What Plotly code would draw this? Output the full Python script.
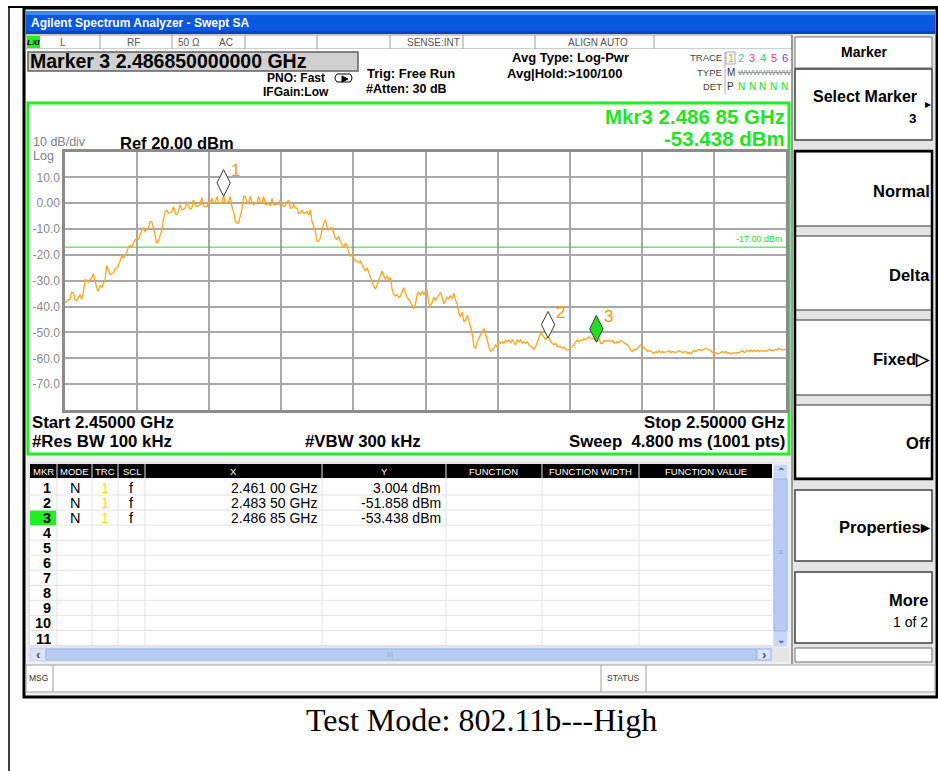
import numpy as np
import plotly.graph_objects as go

W, H = 938, 771

# ---------------- data ----------------
START_GHZ = 2.45
STOP_GHZ = 2.50
REF_DBM = 20.0
BOTTOM_DBM = -80.0
LIMIT_DBM = -17.0

# trace 1 levels (dBm), read left to right across the sweep
level_a = [-38.5, -37.8, -37.4, -37.2, -34.4, -34.6, -37.2, -37.8, -36.2, -35.3,
           -37.2, -34.6, -29.5, -30.1, -30.5, -29.5, -28.8, -27.3, -30.1, -32.7,
           -34.0, -31.8, -32.7, -31.0, -29.5, -24.1, -25.6, -27.6, -27.2, -26.9,
           -25.4, -25.0, -24.1, -22.4, -20.5, -21.2, -19.9, -19.2, -16.9, -16.4,
           -16.9, -15.4, -14.1, -13.5, -14.1, -12.2, -10.3, -9.6, -10.9, -10.3,
           -9.6, -7.1, -7.1, -9.6, -12.2, -15.4, -14.7, -12.2, -10.3, -6.4,
           -3.2, -2.8, -3.8, -3.6, -3.2, -1.3, -3.8, -4.5, -3.2, -0.6,
           -2.6, -2.3, -1.9, 0.6, -1.3, -2.3, -1.9, 1.3, -0.6, -1.3,
           -1.0, -0.6, 2.3, -1.0, -1.3, -1.3, 0.3, 0.3, 1.9, 0.0,
           0.3, 2.6, 0.0, 0.3, 0.3, 3.0, 0.3, 0.0, 0.6]
level_b = [2.6, -1.3, -3.2, -7.1, -7.7, -7.7, -5.1, -2.6, 2.6, 2.6,
           0.6, 0.0, 2.6, 0.3, -0.6, 0.0, 0.0, 2.6, 0.6, 0.0,
           2.6, -0.3, -0.6, 0.0, -1.0, 1.9, -0.6, -0.6, -0.3, -0.6,
           1.5, -0.6, -1.3, -1.0, 0.6, 1.0, -1.9, -1.9, -0.3, -1.9,
           -1.9, -3.8, -3.8, -2.6, -3.8, -3.8, -3.2, -4.5, -2.6, -7.1,
           -9.0, -10.9, -14.7, -14.7, -13.5, -10.3, -7.7, -6.4, -9.0, -10.3,
           -9.6, -9.6, -11.5, -13.5, -14.1, -12.8, -14.7, -16.0, -17.3, -15.4,
           -16.7, -19.2, -20.5, -19.9, -21.2, -22.4, -22.4, -23.1, -22.4, -23.7,
           -24.4, -26.3, -25.0, -26.9, -28.2, -30.8, -32.1, -33.3, -31.4, -29.5,
           -28.2, -26.3, -28.2, -29.5, -28.2, -29.5, -28.8, -33.3, -35.3, -35.9,
           -35.3, -36.5, -35.9, -34.6, -32.7, -34.6, -36.5, -37.2]
level_c = [-38.3, -39.6, -40.8, -38.9, -35.1, -34.5, -35.7, -34.1, -35.4, -34.1,
           -33.8, -38.9, -39.9, -38.3, -36.4, -37.6, -36.4, -35.1, -34.5, -36.4,
           -38.9, -37.6, -36.4, -37.0, -35.7, -37.0, -34.8, -37.6, -38.9, -42.7,
           -44.0, -42.1, -45.9, -45.3, -43.4, -45.3, -47.8, -50.4, -55.5, -56.1,
           -53.6, -52.3, -50.4, -49.7, -48.5, -50.4, -52.9, -55.5, -57.4, -56.8,
           -56.1, -54.8, -55.5, -53.6, -54.2, -53.6, -54.2, -52.9, -53.6, -52.9,
           -54.2, -52.9, -53.6, -54.8, -52.9, -53.6, -52.9, -54.2, -53.6, -54.2,
           -53.6, -54.8, -55.5, -55.7, -56.5, -55.5, -53.6, -52.3, -50.4, -51.0,
           -51.7, -52.9, -51.7, -51.9, -53.6, -54.2, -54.8, -54.2, -55.5, -55.7,
           -55.5, -56.1, -55.7, -56.5, -56.8, -56.5, -56.1, -55.5, -54.5, -53.6,
           -52.9, -53.6, -52.9, -53.2, -52.3, -52.9, -52.3, -51.7]
level_d = [-52.2, -52.2, -52.6, -53.1, -53.4, -52.2, -54.2, -54.4, -53.1, -53.5,
           -53.1, -53.1, -53.5, -53.1, -53.9, -54.2, -53.5, -53.9, -53.1, -53.5,
           -53.9, -54.2, -54.8, -55.5, -56.8, -57.4, -56.5, -56.8, -56.1, -55.2,
           -54.8, -55.2, -56.1, -56.5, -57.4, -57.0, -57.4, -57.8, -58.1, -57.4,
           -57.8, -57.0, -57.8, -57.4, -57.8, -57.5, -57.4, -57.0, -57.8, -57.4,
           -57.5, -57.8, -57.4, -57.0, -57.4, -57.8, -57.5, -57.4, -58.1, -57.8,
           -58.3, -57.4, -57.0, -57.4, -56.8, -56.5, -57.0, -56.8, -56.5, -56.1,
           -56.5, -56.8, -57.0, -57.8, -58.1, -57.8, -58.3, -58.1, -57.8, -57.4,
           -57.8, -57.4, -58.1, -57.8, -58.3, -58.1, -57.8, -58.1, -57.7, -57.8,
           -57.4, -57.0, -57.8, -57.4, -57.0, -57.4, -56.8, -57.4, -57.0, -57.4,
           -56.8, -57.4, -57.0, -57.4, -57.0, -57.4, -57.0, -56.5, -57.0, -56.8,
           -57.0, -56.5, -56.8, -56.1, -56.5, -56.8, -56.5, -56.8]

marker_ids = [1, 2, 3]
marker_freq = [2.46100, 2.48350, 2.48685]
marker_level = [3.004, -51.858, -53.438]
marker_x_text = ["2.461 00 GHz", "2.483 50 GHz", "2.486 85 GHz"]
marker_y_text = ["3.004 dBm", "-51.858 dBm", "-53.438 dBm"]

ytick_vals = [10, 0, -10, -20, -30, -40, -50, -60, -70]
ytick_text = ["10.0", "0.00", "-10.0", "-20.0", "-30.0", "-40.0", "-50.0", "-60.0", "-70.0"]

levels = level_a + level_b + level_c + level_d
freqs = np.linspace(START_GHZ, STOP_GHZ, len(levels))

# ---------------- helpers ----------------
SANS = "Liberation Sans, Arial, sans-serif"
NARROW = "Liberation Sans Narrow, Liberation Sans, Arial, sans-serif"
SERIF = "Liberation Serif, Times New Roman, serif"

def X(x):
    return x / W

def Y(y):
    return 1 - y / H

shapes = []
annotations = []

def rect(x0, y0, x1, y1, fill=None, line=None, lw=1, layer="below"):
    shapes.append(dict(type="rect", xref="paper", yref="paper",
                       x0=X(x0), x1=X(x1), y0=Y(y1), y1=Y(y0),
                       fillcolor=fill if fill else "rgba(0,0,0,0)",
                       line=dict(color=line if line else "rgba(0,0,0,0)", width=lw if line else 0),
                       layer=layer))

def seg(x0, y0, x1, y1, color, width=1, layer="below"):
    shapes.append(dict(type="line", xref="paper", yref="paper",
                       x0=X(x0), x1=X(x1), y0=Y(y0), y1=Y(y1),
                       line=dict(color=color, width=width), layer=layer))

def txt(x, y, s, size=12, color="black", bold=False, anchor="left", family=SANS):
    annotations.append(dict(xref="paper", yref="paper", x=X(x), y=Y(y),
                            text=("<b>%s</b>" % s) if bold else s, showarrow=False,
                            xanchor=anchor, yanchor="middle", borderpad=0,
                            align=anchor if anchor != "center" else "center",
                            font=dict(size=size, color=color, family=family)))

# ---------------- page frame ----------------
seg(9, 6, 9, 771, "black", 1.5)
seg(8, 7, 938, 7, "black", 2)
rect(24, 8, 937, 697, fill="#f0f0f0", line="black", lw=3)

# title bar
rect(26, 11, 935, 34, fill="#0a58e0")
rect(26, 11, 935, 15, fill="#3b86f5")
rect(26, 31, 935, 34, fill="#0846b8")
txt(30, 23, "Agilent Spectrum Analyzer - Swept SA", 12, "white", True)

# status row
rect(26, 35, 792, 49, fill="white", line="#9a9a9a", lw=1)
for sx in [100, 172, 245, 317, 390, 463, 535, 654]:
    seg(sx, 35, sx, 49, "#9a9a9a", 1)
rect(27, 36, 40, 48, fill="#22ee22")
txt(33.5, 42, "<i>LXI</i>", 8, "black", True, "center")
for sx, s in [(63, "L"), (133, "RF"), (189, "50 Ω"), (226, "AC"), (598, "ALIGN AUTO")]:
    txt(sx, 42, s, 10, "#555555", False, "center")
txt(461, 42, "SENSE:INT", 10, "#555555", False, "right")

# info area
rect(26, 49, 792, 101, fill="white")
rect(28, 52, 358, 71, fill="#d0d0d0", line="#606060", lw=1.5)
txt(29, 61.5, "Marker 3 2.486850000000 GHz", 19.5, "black", True)
txt(296, 78, "PNO: Fast", 12, "black", True, "center")
txt(296, 92, "IFGain:Low", 12, "black", True, "center")
shapes.append(dict(type="path", xref="paper", yref="paper",
                   path="M %f %f L %f %f Q %f %f %f %f L %f %f Q %f %f %f %f Z" % (
                       X(337), Y(74), X(350), Y(74), X(354), Y(78), X(350), Y(82),
                       X(337), Y(82), X(333), Y(78), X(337), Y(74)),
                   line=dict(color="black", width=1), fillcolor="white", layer="below"))
shapes.append(dict(type="path", xref="paper", yref="paper",
                   path="M %f %f L %f %f L %f %f Z" % (X(342), Y(76), X(348), Y(79), X(342), Y(82)),
                   line=dict(color="black", width=1), fillcolor="black", layer="below"))
txt(366, 73, "Trig: Free Run", 13, "black", True)
txt(365, 89, "#Atten: 30 dB", 12.5, "black", True)
txt(570, 58, "Avg Type: Log-Pwr", 13, "black", True, "center")
txt(565, 73, "Avg|Hold:>100/100", 13, "black", True, "center")
for ty, s in [(58, "TRACE"), (72, "TYPE"), (86, "DET")]:
    txt(723, ty, s, 9.5, "#444444", False, "right")
seg(725, 52, 725, 94, "#aaaaaa", 1)
rect(726, 52, 735, 64, line="#aaaaaa", lw=1)
trace_cols = ["#ff9900", "#22c8ff", "#ff33cc", "#33dd33", "#ff3366", "#6644ff"]
for i, c in enumerate(trace_cols):
    txt(730.5 + 10.8 * i, 58, str(i + 1), 11, c, False, "center")
txt(730.5, 72, "M", 10, "#333333", False, "center")
txt(737, 72, "<s>WWWWWWW</s>", 8, "#8a8a8a", False, "left")
txt(730.5, 86, "P", 10, "#333333", False, "center")
for i in range(5):
    txt(741.3 + 10.8 * i, 86, "N", 10, "#22dd22", False, "center")

# plot panel
rect(28, 103, 789, 454, fill="white", line="#22ee22", lw=3)
txt(786, 116, "Mkr3 2.486 85 GHz", 20.5, "#1ee61e", True, "right")
txt(786, 138, "-53.438 dBm", 20.5, "#1ee61e", True, "right")
txt(32, 142, "10 dB/div", 12.5, "#808080")
txt(32, 156.5, "Log", 12.5, "#808080")
txt(119, 142.5, "Ref 20.00 dBm", 16.5, "black", True)
txt(31, 422, "Start 2.45000 GHz", 16.8, "black", True)
txt(786, 422, "Stop 2.50000 GHz", 16.8, "black", True, "right")
txt(31, 441, "#Res BW 100 kHz", 16.8, "black", True)
txt(304, 441, "#VBW 300 kHz", 16.8, "black", True)
txt(786, 441, "Sweep  4.800 ms (1001 pts)", 16.8, "black", True, "right")

# marker table
rect(28, 462, 789, 662, fill="#e6e6e6")
rect(30, 464, 773, 646, fill="white")
rect(30, 464, 772, 478, fill="black")
col_edges = [30, 57, 92, 118, 145, 322, 446, 542, 639, 772]
for cx in col_edges[1:-1]:
    seg(cx, 464, cx, 478, "#9a9a9a", 1.5)
    seg(cx, 478, cx, 646, "#e2e2e2", 1)
heads = ["MKR", "MODE", "TRC", "SCL", "X", "Y", "FUNCTION", "FUNCTION WIDTH", "FUNCTION VALUE"]
for i, hname in enumerate(heads):
    txt((col_edges[i] + col_edges[i + 1]) / 2, 471, hname, 9.5, "white", False, "center", NARROW)
ROW0, ROWH = 488, 15.05
for r in range(11):
    yc = ROW0 + ROWH * r
    seg(30, yc + 7, 773, yc + 7, "#e2e2e2", 1)
    if r == 2:
        rect(30, yc - 7.5, 56, yc + 7, fill="#22ee22")
    txt(52, yc, str(r + 1), 14.5, "black", True, "right")
for k in range(len(marker_ids)):
    yc = ROW0 + ROWH * k
    txt(74.5, yc, "N", 14.5, "black", False, "center")
    txt(104.5, yc, "1", 14.5, "#f5e400", False, "center")
    txt(131, yc, "f", 14.5, "black", False, "center")
    txt(318, yc, marker_x_text[k], 14, "black", False, "right")
    txt(442, yc, marker_y_text[k], 14, "black", False, "right")
# scrollbars
rect(773, 464, 788, 647, fill="#c9d8f6", line="#f4f7fe", lw=1)
rect(774, 479, 787, 631, fill="#b7cbf3", line="#9fb7ea", lw=1)
txt(780.5, 471, "⌃", 10, "#4a5f9a", True, "center")
txt(780.5, 639, "⌄", 10, "#4a5f9a", True, "center")
txt(780.5, 552, "≡", 9, "#8fa8dc", False, "center")
rect(30, 648, 772, 661, fill="#c9d8f6")
rect(46, 649, 756, 660, fill="#b7cbf3", line="#9fb7ea", lw=1)
rect(31, 649, 45, 660, fill="#d9e4fa")
rect(757, 649, 771, 660, fill="#d9e4fa", line="#9fb7ea", lw=1)
txt(38, 654.5, "‹", 13, "#3a4f8a", True, "center")
txt(764, 654.5, "›", 13, "#3a4f8a", True, "center")
txt(390, 654.5, "III", 7, "#8fa8dc", False, "center")

# message row
rect(26, 665, 935, 692, fill="white", line="#a0a0a0", lw=1)
seg(53, 665, 53, 692, "#a0a0a0", 1)
seg(601, 665, 601, 692, "#a0a0a0", 1)
seg(646, 665, 646, 692, "#a0a0a0", 1)
txt(38.5, 678, "MSG", 8.5, "#333333", False, "center")
txt(623.5, 678, "STATUS", 8.5, "#333333", False, "center")

# right soft-key panel
rect(792, 35, 935, 664, fill="#e4e4e4")
seg(792, 35, 792, 664, "#808080", 1.5)
rect(795, 37, 932, 68, fill="white", line="#707070", lw=1)
txt(863.5, 52, "Marker", 14, "black", True, "center")
rect(795, 69, 932, 140, fill="white", line="#404040", lw=1.5)
txt(918, 96, "Select Marker", 16, "black", True, "right")
txt(927.5, 104, "▸", 12, "black", False, "center")
txt(918, 118, "3", 13.5, "black", True, "right")
for (y0, y1, label, ty) in [(152, 226, "Normal", 191), (236, 310, "Delta", 275),
                             (320, 395, "Fixed▷", 359), (405, 478, "Off", 443)]:
    rect(795, y0, 932, y1, fill="white", line="#303030", lw=1)
    txt(931, ty, label, 16.5, "black", True, "right")
rect(795, 151, 932, 479, line="black", lw=2.5)
rect(795, 490, 932, 561, fill="white", line="#404040", lw=1.5)
txt(932, 527, "Properties▸", 16.5, "black", True, "right")
rect(795, 572, 932, 643, fill="white", line="#404040", lw=1.5)
txt(929, 600, "More", 16.5, "black", True, "right")
txt(929, 622, "1 of 2", 14, "black", False, "right")
rect(795, 648, 932, 662, fill="white", line="#707070", lw=1)

# caption below the screenshot
txt(481, 720, "Test Mode: 802.11b---High", 32, "black", False, "center", SERIF)

# limit line and its label (data coordinates)
shapes.append(dict(type="line", xref="x", yref="y", x0=START_GHZ, x1=STOP_GHZ,
                   y0=LIMIT_DBM, y1=LIMIT_DBM, line=dict(color="#22dd22", width=1), layer="between"))
annotations.append(dict(xref="x", yref="y", x=STOP_GHZ, y=LIMIT_DBM, text="-17.00 dBm",
                        showarrow=False, xanchor="right", yanchor="bottom", yshift=1, xshift=-1,
                        font=dict(size=9, color="#22dd22", family=NARROW)))

# ---------------- figure ----------------
fig = go.Figure()
fig.add_trace(go.Scatter(x=freqs, y=levels, mode="lines",
                         line=dict(color="#ffa51f", width=1.3), hoverinfo="skip"))

# markers: diamonds sit on top of the trace point
PLOT_H_PX = 410 - 151.5
diamond_px = 12.5
offset_db = diamond_px * (REF_DBM - BOTTOM_DBM) / PLOT_H_PX
fig.add_trace(go.Scatter(x=marker_freq, y=[v + offset_db for v in marker_level], mode="markers",
                         marker=dict(symbol="diamond-tall", size=19,
                                     color=["white", "white", "#22dd22"],
                                     line=dict(color="#3a3a3a", width=1)),
                         hoverinfo="skip"))
for mid, f, v in zip(marker_ids, marker_freq, marker_level):
    annotations.append(dict(xref="x", yref="y", x=f, y=v, text=str(mid), showarrow=False,
                            xshift=12, yshift=25, font=dict(size=17, color="#ff9900", family=SANS)))

fig.update_layout(
    width=W, height=H, margin=dict(l=0, r=0, t=0, b=0),
    paper_bgcolor="white", plot_bgcolor="rgba(0,0,0,0)", showlegend=False,
    shapes=shapes, annotations=annotations,
    xaxis=dict(domain=[X(65), X(786)], range=[START_GHZ, STOP_GHZ], dtick=0.005, tick0=START_GHZ,
               showticklabels=False, ticks="", showgrid=True, gridcolor="#a8a8a8", gridwidth=1.5,
               zeroline=False, showline=True, linecolor="#8c8c8c", linewidth=2.5, mirror=True,
               fixedrange=True),
    yaxis=dict(domain=[Y(410), Y(151.5)], range=[BOTTOM_DBM, REF_DBM], tickvals=ytick_vals,
               ticktext=ytick_text, ticks="", showgrid=True, gridcolor="#a8a8a8", gridwidth=1.5,
               zeroline=False, showline=True, linecolor="#8c8c8c", linewidth=2.5, mirror=True,
               tickfont=dict(size=12, color="#8a8a8a", family=SANS), fixedrange=True),
)
fig.write_html("out.html", config={"displayModeBar": False},
               post_script="document.body.style.margin='0';document.body.style.overflow='hidden';")
